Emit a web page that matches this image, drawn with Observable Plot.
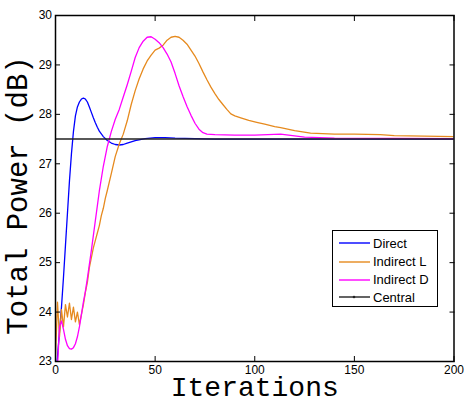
<!DOCTYPE html>
<html>
<head>
<meta charset="utf-8">
<script src="https://cdn.jsdelivr.net/npm/d3@7"></script>
<script src="https://cdn.jsdelivr.net/npm/@observablehq/plot@0.6"></script>
<style>
  html, body { margin: 0; padding: 0; background: #fff; }
  #wrap { position: relative; width: 466px; height: 398px; }
  #legend {
    position: absolute; left: 332px; top: 230px; width: 104px; height: 75px;
    border: 1.3px solid #000; background: #fff;
    font-family: "Liberation Sans", Arial, sans-serif; font-size: 13px; color: #000;
  }
  #legend .row { position: absolute; left: 0; height: 18px; display: flex; align-items: center; }
  #legend svg { margin-left: 6px; margin-right: 3px; }
</style>
</head>
<body>
<div id="wrap"><div id="legend"></div></div>
<script>
// ---- data ----
const seriesNames = ["Direct", "Indirect L", "Indirect D", "Central"];
const seriesColors = ["#0000ff", "#e68a1e", "#ff00ff", "#222222"];

const xTicks = [0, 50, 100, 150, 200];
const yTicks = [23, 24, 25, 26, 27, 28, 29, 30];

const directIter = [0,1,2,3,4,5,6,7,8,9,10,11,12,13,14,15,16,17,18,19,20,21,22,24,26,28,30,32,34,36,40,45,50,55,60,70,80,100,200];
const directVal  = [22.6,23.1,23.6,24.1,24.7,25.35,26.0,26.65,27.2,27.65,27.97,28.15,28.25,28.31,28.33,28.31,28.25,28.15,28.04,27.93,27.83,27.74,27.66,27.55,27.47,27.42,27.39,27.38,27.39,27.42,27.47,27.51,27.53,27.53,27.52,27.51,27.5,27.5,27.5];

const indLIter = [0,1,2,3,4,5,6,7,8,9,10,11,12,13,14,15,16,17,18,19,20,21,22,23,24,25,26,28,30,32,34,36,38,40,42,44,46,48,50,52,54,56,58,60,62,64,66,68,70,72,74,76,78,80,82,84,86,88,90,93,97,101,105,110,113,120,128,140,150,163,170,185,200];
const indLVal  = [23.1,24.2,23.5,24.05,23.7,24.15,23.9,24.18,23.85,24.1,23.8,24.0,23.75,23.95,24.15,24.4,24.6,24.9,25.1,25.3,25.45,25.6,25.75,25.95,26.1,26.3,26.46,26.8,27.15,27.4,27.6,27.87,28.2,28.48,28.72,28.92,29.08,29.2,29.3,29.34,29.4,29.5,29.56,29.58,29.56,29.5,29.42,29.3,29.18,29.03,28.86,28.7,28.55,28.42,28.3,28.2,28.1,28.01,27.97,27.93,27.88,27.84,27.8,27.75,27.73,27.67,27.62,27.6,27.6,27.59,27.57,27.56,27.55];

const indDIter = [0,1,2,3,4,5,6,7,8,9,10,11,12,13,14,15,16,18,20,22,24,26,28,30,32,34,36,38,40,42,44,46,48,50,52,54,56,58,60,62,64,66,68,70,72,74,76,80,90,100,113,125,140,200];
const indDVal  = [22.0,22.9,23.7,23.82,23.65,23.45,23.32,23.26,23.25,23.28,23.36,23.5,23.7,23.95,24.2,24.42,24.68,25.25,25.85,26.45,26.95,27.35,27.65,27.9,28.1,28.35,28.6,28.87,29.15,29.35,29.48,29.56,29.57,29.52,29.45,29.35,29.22,29.06,28.83,28.58,28.36,28.16,27.98,27.82,27.7,27.63,27.6,27.59,27.58,27.58,27.6,27.54,27.52,27.51];

const centralIter = [0, 200];
const centralVal  = [27.5, 27.5];

// ---- build tidy table ----
const table = [];
[[directIter, directVal], [indLIter, indLVal], [indDIter, indDVal], [centralIter, centralVal]]
  .forEach(([xs, ys], k) => xs.forEach((x, i) => table.push({series: seriesNames[k], x, y: ys[i]})));

const mono = "Liberation Mono, Courier New, monospace";

const chart = Plot.plot({
  width: 466,
  height: 398,
  marginLeft: 55,
  marginRight: 12.5,
  marginTop: 15,
  marginBottom: 37,
  style: {fontFamily: "Liberation Sans, Arial, sans-serif", fontSize: "12px", color: "#000", background: "#fff", overflow: "visible"},
  x: {domain: [0, 200]},
  y: {domain: [23, 30]},
  color: {domain: seriesNames, range: seriesColors},
  marks: [
    ...seriesNames.map(name => Plot.line(table.filter(d => d.series === name), {
      x: "x", y: "y", stroke: "series", strokeWidth: name === "Central" ? 1.5 : 1.3, clip: true, curve: "linear"
    })),
    Plot.frame({stroke: "#000", strokeWidth: 1.5}),
    Plot.axisX({ticks: xTicks, tickSize: -5, tickPadding: 9, tickFormat: d => String(d), label: null, fontSize: 12}),
    Plot.axisX({anchor: "top", ticks: xTicks, tickSize: -5, tickFormat: () => "", label: null}),
    Plot.axisY({ticks: yTicks, tickSize: -5, tickPadding: 8.5, tickFormat: d => String(d), label: null, fontSize: 12}),
    Plot.axisY({anchor: "right", ticks: yTicks, tickSize: -5, tickFormat: () => "", label: null}),
    Plot.text(["Iterations"], {frameAnchor: "bottom", lineAnchor: "bottom", textAnchor: "middle", dy: 34, fontFamily: mono, fontSize: 28, fill: "#000"}),
    Plot.text(["Total Power (dB)"], {frameAnchor: "left", lineAnchor: "middle", textAnchor: "middle", rotate: -90, dx: -37.5, dy: 7, fontFamily: mono, fontSize: 29, fill: "#000"})
  ]
});

const wrap = document.getElementById("wrap");
wrap.insertBefore(chart, wrap.firstChild);

// legend
const legend = document.getElementById("legend");
const rowTops = [3, 21.5, 39.5, 57];
seriesNames.forEach((name, i) => {
  const row = document.createElement("div");
  row.className = "row";
  row.style.top = rowTops[i] + "px";
  const dot = name === "Central" ? `<circle cx="15" cy="5" r="1.3" fill="${seriesColors[i]}"/>` : "";
  row.innerHTML = `<svg width="31" height="10"><line x1="0" x2="31" y1="5" y2="5" stroke="${seriesColors[i]}" stroke-width="1.4"/>${dot}</svg><span>${name}</span>`;
  legend.appendChild(row);
});
</script>
</body>
</html>
